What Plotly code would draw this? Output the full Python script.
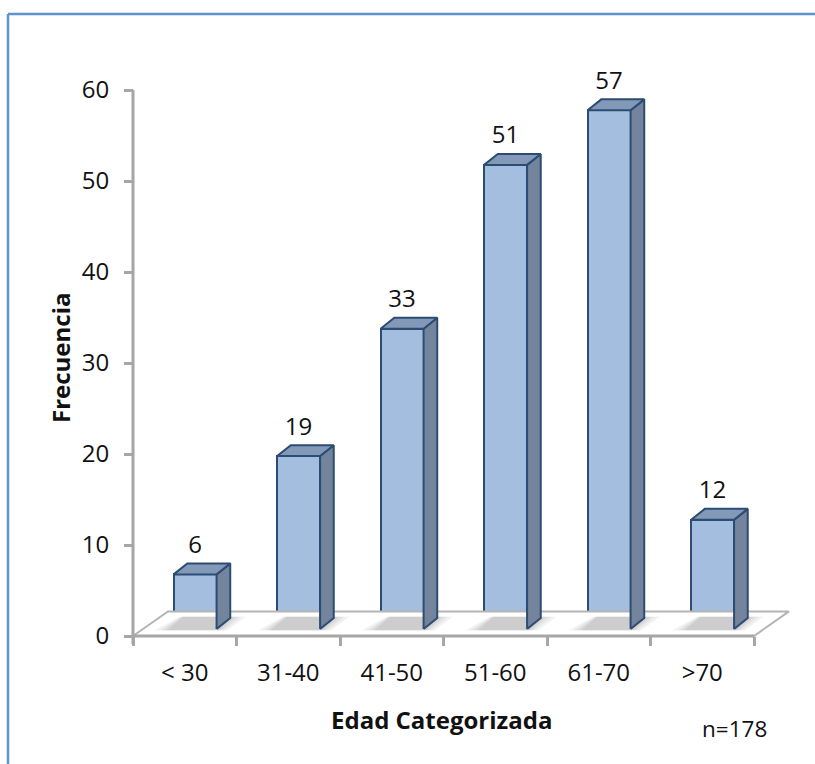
import plotly.graph_objects as go

# ---- data ----
categories = ["< 30", "31-40", "41-50", "51-60", "61-70", ">70"]
frecuencia = [6, 19, 33, 51, 57, 12]
y_ticks = [0, 10, 20, 30, 40, 50, 60]
n_label = "n=178"

# ---- geometry (pixels -> data units) ----
W, H = 815, 764
PX_X = 103.5      # px per category
PX_Y = 9.1        # px per unit
X0_PX, Y0_PX = 133, 636   # pixel of (x=-0.5, y=0)
L, R, T, B = 123, 10, 40, 114
xmin = -0.5 - (X0_PX - L) / PX_X
xmax = -0.5 + (W - R - X0_PX) / PX_X
ymin = -(H - B - Y0_PX) / PX_Y
ymax = (Y0_PX - T) / PX_Y

def px2paper_x(px):
    return (px - L) / (W - L - R)

def px2paper_y(py):
    return (H - B - py) / (H - T - B)

# 3D style constants (in data units)
bar_off = 0.10      # bar shift to the right (depth)
bar_w = 0.415
bar_base = 0.77
ddx = 0.132         # bar depth offset
ddy = 1.2
fdx = 0.338         # floor depth
fdy = 2.7

FRONT = "#A3BEDF"
TOP = "#8299B7"
SIDE = "#74849D"
EDGE = "#2D4C74"
GRAY = "#A6A6A6"
TXT = "#111111"
FONT = "Open Sans"

n = len(categories)
xc = [i + bar_off for i in range(n)]

fig = go.Figure()

# floor
fx = [-0.5, n - 0.5, n - 0.5 + fdx, -0.5 + fdx, -0.5]
fy = [0, 0, fdy, fdy, 0]
fig.add_trace(go.Scatter(x=fx, y=fy, mode="lines", fill="toself",
                         fillcolor="white", line=dict(color="#B4B4B4", width=2),
                         hoverinfo="skip", showlegend=False))
fig.add_trace(go.Scatter(x=[-0.5, n - 0.5], y=[0, 0], mode="lines",
                         line=dict(color=GRAY, width=3),
                         hoverinfo="skip", showlegend=False))

# soft shadows around the bar footprints (blurred footprint)
for e in [0.15, 0.10, 0.06, 0.03]:
    sx, sy = [], []
    for c in xc:
        xl = c - bar_w / 2 - 0.03
        xr = c + bar_w / 2
        ey = 0.15
        sx += [xl - e, xr + e * 0.7, xr + ddx + e, xl + ddx - e * 0.3, xl - e, None]
        sy += [bar_base - ey, bar_base - ey, bar_base + ddy + ey,
               bar_base + ddy + ey, bar_base - ey, None]
    fig.add_trace(go.Scatter(x=sx, y=sy, mode="lines", fill="toself",
                             fillcolor="rgba(80,80,80,0.08)", line=dict(width=0),
                             hoverinfo="skip", showlegend=False))

# side faces
px_, py_ = [], []
for c, v in zip(xc, frecuencia):
    xr = c + bar_w / 2
    px_ += [xr, xr + ddx, xr + ddx, xr, xr, None]
    py_ += [bar_base, bar_base + ddy, bar_base + v + ddy, bar_base + v, bar_base, None]
fig.add_trace(go.Scatter(x=px_, y=py_, mode="lines", fill="toself",
                         fillcolor=SIDE, line=dict(color=EDGE, width=2),
                         hoverinfo="skip", showlegend=False))

# top faces
tx, ty = [], []
for c, v in zip(xc, frecuencia):
    xl = c - bar_w / 2
    xr = c + bar_w / 2
    top = bar_base + v
    tx += [xl, xr, xr + ddx, xl + ddx, xl, None]
    ty += [top, top, top + ddy, top + ddy, top, None]
fig.add_trace(go.Scatter(x=tx, y=ty, mode="lines", fill="toself",
                         fillcolor=TOP, line=dict(color=EDGE, width=2),
                         hoverinfo="skip", showlegend=False))

# front faces
fig.add_trace(go.Bar(x=xc, y=frecuencia, base=bar_base, width=bar_w,
                     marker=dict(color=FRONT, line=dict(color=EDGE, width=2)),
                     hoverinfo="skip", showlegend=False))

# data labels
fig.add_trace(go.Scatter(x=xc, y=[bar_base + v + ddy + 0.5 for v in frecuencia],
                         mode="text", text=[str(v) for v in frecuencia],
                         textposition="top center",
                         textfont=dict(family=FONT, size=24, color=TXT),
                         hoverinfo="skip", showlegend=False, cliponaxis=False))

# y axis line
shapes = [dict(type="line", xref="x", yref="y", x0=-0.5, x1=-0.5, y0=-0.9, y1=y_ticks[-1],
               line=dict(color=GRAY, width=3), layer="above")]
# blue frame
shapes.append(dict(type="line", xref="paper", yref="paper",
                   x0=px2paper_x(8), x1=px2paper_x(W + 5), y0=px2paper_y(14), y1=px2paper_y(14),
                   line=dict(color="#5E93CF", width=2.5)))
shapes.append(dict(type="line", xref="paper", yref="paper",
                   x0=px2paper_x(8), x1=px2paper_x(8), y0=px2paper_y(14), y1=px2paper_y(H + 5),
                   line=dict(color="#5E93CF", width=2.5)))

annotations = [
    dict(text="<b>Edad Categorizada</b>", xref="paper", yref="paper",
         x=px2paper_x(441), y=px2paper_y(720), showarrow=False,
         font=dict(family=FONT, size=24, color=TXT),
         xanchor="center", yanchor="middle"),
    dict(text="<b>Frecuencia</b>", xref="paper", yref="paper",
         x=px2paper_x(60), y=px2paper_y(358), showarrow=False, textangle=-90,
         font=dict(family=FONT, size=24, color=TXT),
         xanchor="center", yanchor="middle"),
    dict(text=n_label, xref="paper", yref="paper",
         x=px2paper_x(734), y=px2paper_y(728), showarrow=False,
         font=dict(family=FONT, size=22.5, color=TXT),
         xanchor="center", yanchor="middle"),
]

fig.update_layout(
    width=W, height=H,
    margin=dict(l=L, r=R, t=T, b=B, pad=0),
    paper_bgcolor="white", plot_bgcolor="white",
    shapes=shapes, annotations=annotations,
    xaxis=dict(range=[xmin, xmax], anchor="free",
               position=(0 - ymin) / (ymax - ymin),
               tickvals=list(range(n)), ticktext=categories,
               ticks="", showgrid=False, zeroline=False, showline=False,
               tickfont=dict(family=FONT, size=24, color=TXT),
               ticklabelstandoff=20,
               minor=dict(tickvals=[i - 0.5 for i in range(n + 1)], ticks="outside",
                          ticklen=9, tickwidth=3, tickcolor=GRAY, showgrid=False)),
    yaxis=dict(range=[ymin, ymax], anchor="free",
               position=(-0.5 - xmin) / (xmax - xmin),
               tickvals=y_ticks, ticks="outside", ticklen=9, tickwidth=3, tickcolor=GRAY,
               showgrid=False, zeroline=False, showline=False,
               tickfont=dict(family=FONT, size=24, color=TXT),
               ticklabelstandoff=10),
    bargap=0,
)

fig.write_html("out.html")
